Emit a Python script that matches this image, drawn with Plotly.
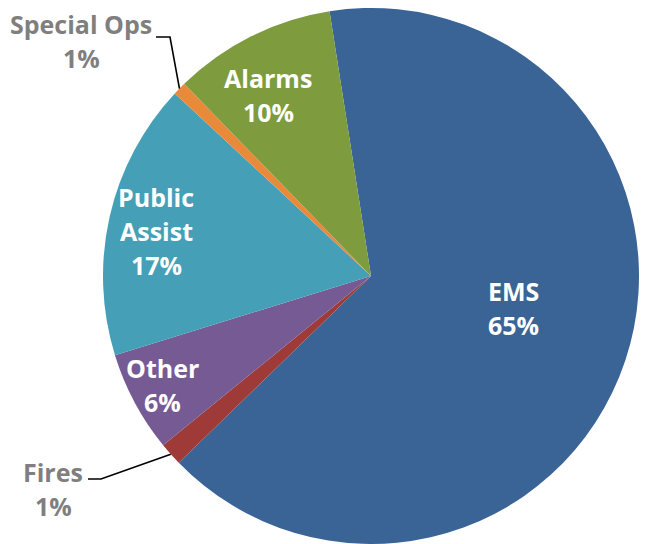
import math
import plotly.graph_objects as go

# ---- data ----
categories = ["EMS", "Fires", "Other", "Public Assist", "Special Ops", "Alarms"]
values = [65.2, 1.4, 6.1, 16.7, 0.8, 9.8]
label_lines = [["EMS"], ["Fires"], ["Other"], ["Public", "Assist"], ["Special Ops"], ["Alarms"]]
colors = ["#3A6495", "#9E3B38", "#755A94", "#45A0B7", "#E98A3A", "#7E9B3D"]

W, H = 652, 544
ROT = -8.9          # start angle of first slice, degrees clockwise from 12 o'clock
CX, CY, R = 371, 276, 268   # pie centre / radius in pixels

dom_x = [(CX - R) / W, (CX + R) / W]
dom_y = [max(0.0, 1 - (CY + R) / H), 1 - (CY - R) / H]

fig = go.Figure(go.Pie(
    labels=categories,
    values=values,
    sort=False,
    direction="clockwise",
    rotation=ROT,
    marker=dict(colors=colors, line=dict(width=0)),
    textinfo="none",
    hoverinfo="label+percent",
    domain=dict(x=dom_x, y=dom_y),
    showlegend=False,
))

def px(x, y):
    return x / W, 1 - y / H

total = sum(values)
pcts = [round(v / total * 100) for v in values]

cum = 0.0
mid_angles = []
for v in values:
    mid_angles.append(ROT + (cum + v / 2) / total * 360)
    cum += v

def edge_point(i, frac=1.0):
    a = math.radians(mid_angles[i])
    return CX + R * frac * math.sin(a), CY - R * frac * math.cos(a)

# label placements: (x centre, y of first line) in pixels
label_pos = {
    "EMS": (513, 291),
    "Fires": (53, 472),
    "Other": (162, 368),
    "Public Assist": (156, 197),
    "Special Ops": (81, 24),
    "Alarms": (268, 78),
}
outside = {"Fires", "Special Ops"}
LINE = 34

annotations = []
for i, c in enumerate(categories):
    lx, ly = label_pos[c]
    lines = label_lines[i] + [f"{pcts[i]}%"]
    for k, t in enumerate(lines):
        x, y = px(lx, ly + k * LINE)
        annotations.append(dict(
            x=x, y=y, xref="paper", yref="paper",
            text=f"<b>{t}</b>",
            showarrow=False,
            font=dict(family="Open Sans", size=25,
                      color="#7F7F7F" if c in outside else "#FFFFFF"),
            align="center", xanchor="center", yanchor="middle",
        ))

# leader lines
shapes = []
si = categories.index("Special Ops")
ex, ey = edge_point(si)
p0 = px(156, 37); p1 = px(170, 37); p2 = px(ex, ey)
shapes.append(dict(type="path", xref="paper", yref="paper",
                   path=f"M {p0[0]},{p0[1]} L {p1[0]},{p1[1]} L {p2[0]},{p2[1]}",
                   line=dict(color="#000000", width=1.6)))
fi = categories.index("Fires")
ex, ey = edge_point(fi)
p0 = px(88, 479); p1 = px(101, 479); p2 = px(ex, ey)
shapes.append(dict(type="path", xref="paper", yref="paper",
                   path=f"M {p0[0]},{p0[1]} L {p1[0]},{p1[1]} L {p2[0]},{p2[1]}",
                   line=dict(color="#000000", width=1.6)))

fig.update_layout(
    width=W, height=H,
    margin=dict(l=0, r=0, t=0, b=0),
    paper_bgcolor="white",
    plot_bgcolor="white",
    annotations=annotations,
    shapes=shapes,
)

fig.write_html("out.html", config={"displayModeBar": False},
               post_script="document.body.style.margin='0';")
